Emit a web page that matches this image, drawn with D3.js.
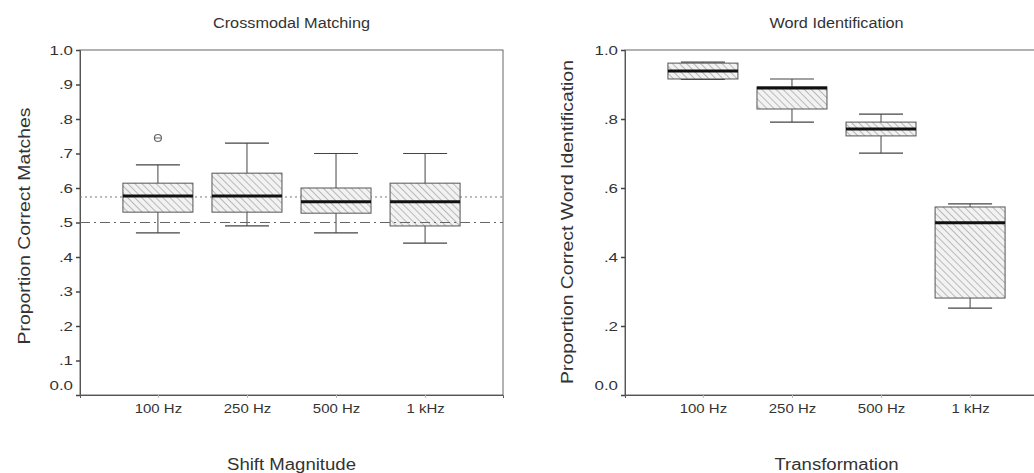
<!DOCTYPE html>
<html>
<head>
<meta charset="utf-8">
<script src="https://cdn.jsdelivr.net/npm/d3@7"></script>
<style>
  body { margin: 0; background: #fff; }
  svg { display: block; font-family: "Liberation Sans", Arial, sans-serif; }
</style>
</head>
<body>
<svg id="chart" width="1034" height="473"></svg>
<script>
// categories shared by both panels
var categories = ['100 Hz', '250 Hz', '500 Hz', '1 kHz'];

// Crossmodal matching box stats
var matchLow    = [0.470, 0.490, 0.470, 0.440];
var matchQ1     = [0.530, 0.530, 0.527, 0.490];
var matchMedian = [0.577, 0.577, 0.560, 0.560];
var matchQ3     = [0.614, 0.643, 0.600, 0.614];
var matchHigh   = [0.667, 0.730, 0.700, 0.700];
var matchOutliers = [{ cat: '100 Hz', value: 0.745 }];
var matchTicks = [0, 0.1, 0.2, 0.3, 0.4, 0.5, 0.6, 0.7, 0.8, 0.9, 1.0];
var matchRefDotted = 0.574;
var matchRefDashDot = 0.5;

// Word identification box stats
var wordLow    = [0.915, 0.791, 0.701, 0.252];
var wordQ1     = [0.916, 0.829, 0.751, 0.281];
var wordMedian = [0.939, 0.890, 0.771, 0.499];
var wordQ3     = [0.962, 0.893, 0.791, 0.545];
var wordHigh   = [0.965, 0.916, 0.814, 0.554];
var wordTicks = [0, 0.2, 0.4, 0.6, 0.8, 1.0];

var svg = d3.select('#chart');

var defs = svg.append('defs');
var pat = defs.append('pattern')
  .attr('id', 'hatch')
  .attr('patternUnits', 'userSpaceOnUse')
  .attr('width', 5)
  .attr('height', 5)
  .attr('patternTransform', 'rotate(-45)');
pat.append('rect').attr('width', 5).attr('height', 5).attr('fill', '#f2f2f2');
pat.append('line')
  .attr('x1', 0).attr('y1', 0).attr('x2', 0).attr('y2', 5)
  .attr('stroke', '#8a8a8a').attr('stroke-width', 1.1);

function tickFmt(v) {
  if (v === 0) return '0.0';
  if (v === 1) return '1.0';
  return d3.format('.1f')(v).replace(/^0/, '');
}

// the original uses a wider face than Liberation Sans, so widen the glyphs a bit
function widen(sel, k) {
  sel.each(function () {
    var w = this.getComputedTextLength();
    d3.select(this).attr('textLength', w * k).attr('lengthAdjust', 'spacingAndGlyphs');
  });
}

function drawPanel(opt) {
  var x = d3.scalePoint().domain(categories).range([opt.left, opt.right]).padding(0.875);
  var y = d3.scaleLinear().domain([0, 1]).range([395, 50]);
  var g = svg.append('g');

  // frame
  g.append('rect')
    .attr('x', opt.left).attr('y', y(1))
    .attr('width', opt.right - opt.left).attr('height', y(0) - y(1))
    .attr('fill', 'none').attr('stroke', '#666').attr('stroke-width', 1);

  // y axis
  var ya = g.append('g')
    .attr('transform', 'translate(' + opt.left + ',0)')
    .call(d3.axisLeft(y).tickValues(opt.ticks).tickFormat(tickFmt).tickSize(4).tickPadding(3));
  ya.select('.domain').attr('stroke', '#555');
  ya.selectAll('.tick line').attr('stroke', '#444').attr('stroke-width', 1.5);
  ya.selectAll('.tick text')
    .attr('fill', '#333').style('font-size', '13px')
    .attr('dy', function (d) { return d === 0 ? '-0.45em' : '0.32em'; });
  widen(ya.selectAll('.tick text'), 1.3);

  // x axis
  var xa = g.append('g')
    .attr('transform', 'translate(0,' + y(0) + ')')
    .call(d3.axisBottom(x).tickSize(3).tickPadding(6));
  xa.select('.domain').attr('stroke', '#555');
  xa.selectAll('.tick line').attr('stroke', '#bbb');
  xa.selectAll('.tick text').attr('fill', '#333').style('font-size', '13px');
  widen(xa.selectAll('.tick text'), 1.15);

  if (opt.refDotted != null) {
    g.append('line')
      .attr('x1', opt.left).attr('x2', opt.right)
      .attr('y1', y(opt.refDotted)).attr('y2', y(opt.refDotted))
      .attr('stroke', '#777').attr('stroke-dasharray', '2,3').attr('stroke-width', 1);
  }

  var boxW = 70, capW = 44;
  var rows = categories.map(function (c, i) {
    return { cat: c, lo: opt.low[i], q1: opt.q1[i], med: opt.med[i], q3: opt.q3[i], hi: opt.high[i] };
  });

  var b = g.selectAll('.box').data(rows).enter().append('g').attr('class', 'box');
  b.append('line')
    .attr('x1', function (d) { return x(d.cat); }).attr('x2', function (d) { return x(d.cat); })
    .attr('y1', function (d) { return y(d.hi); }).attr('y2', function (d) { return y(d.lo); })
    .attr('stroke', '#444');
  b.selectAll('.cap').data(function (d) { return [d.lo, d.hi].map(function (v) { return { cat: d.cat, v: v }; }); })
    .enter().append('line')
    .attr('x1', function (d) { return x(d.cat) - capW / 2; })
    .attr('x2', function (d) { return x(d.cat) + capW / 2; })
    .attr('y1', function (d) { return y(d.v); }).attr('y2', function (d) { return y(d.v); })
    .attr('stroke', '#444').attr('stroke-width', 1.2);
  b.append('rect')
    .attr('x', function (d) { return x(d.cat) - boxW / 2; })
    .attr('y', function (d) { return y(d.q3); })
    .attr('width', boxW)
    .attr('height', function (d) { return y(d.q1) - y(d.q3); })
    .attr('fill', 'url(#hatch)').attr('stroke', '#555').attr('stroke-width', 1);
  b.append('line')
    .attr('x1', function (d) { return x(d.cat) - boxW / 2; })
    .attr('x2', function (d) { return x(d.cat) + boxW / 2; })
    .attr('y1', function (d) { return y(d.med); }).attr('y2', function (d) { return y(d.med); })
    .attr('stroke', '#111').attr('stroke-width', 3);

  if (opt.outliers) {
    var o = g.selectAll('.out').data(opt.outliers).enter().append('g')
      .attr('transform', function (d) { return 'translate(' + x(d.cat) + ',' + y(d.value) + ')'; });
    o.append('circle').attr('r', 3.5).attr('fill', 'none').attr('stroke', '#666').attr('stroke-width', 1.2);
    o.append('line').attr('x1', -3).attr('x2', 3).attr('stroke', '#666');
  }

  if (opt.refDashDot != null) {
    g.append('line')
      .attr('x1', opt.left).attr('x2', opt.right)
      .attr('y1', y(opt.refDashDot)).attr('y2', y(opt.refDashDot))
      .attr('stroke', '#666').attr('stroke-dasharray', '10,4,2,4').attr('stroke-width', 1);
  }

  var cx = (opt.left + opt.right) / 2;
  var t1 = svg.append('text').attr('x', cx).attr('y', 28)
    .attr('text-anchor', 'middle').attr('fill', '#333').style('font-size', '14px').text(opt.title);
  var t2 = svg.append('text').attr('x', cx).attr('y', 470)
    .attr('text-anchor', 'middle').attr('fill', '#333').style('font-size', '16px').text(opt.xTitle);
  var t3 = svg.append('text')
    .attr('transform', 'translate(' + opt.yTitleX + ',' + opt.yTitleY + ') rotate(-90)')
    .attr('text-anchor', 'middle').attr('fill', '#333').style('font-size', '17px').text(opt.yTitle);
  widen(t1, 1.16);
  widen(t2, 1.16);
  widen(t3, 1.14);
}

drawPanel({
  left: 80, right: 503, ticks: matchTicks,
  low: matchLow, q1: matchQ1, med: matchMedian, q3: matchQ3, high: matchHigh,
  outliers: matchOutliers, refDotted: matchRefDotted, refDashDot: matchRefDashDot,
  title: 'Crossmodal Matching', xTitle: 'Shift Magnitude',
  yTitle: 'Proportion Correct Matches', yTitleX: 30, yTitleY: 226
});

drawPanel({
  left: 625, right: 1048, ticks: wordTicks,
  low: wordLow, q1: wordQ1, med: wordMedian, q3: wordQ3, high: wordHigh,
  title: 'Word Identification', xTitle: 'Transformation',
  yTitle: 'Proportion Correct Word Identification', yTitleX: 573, yTitleY: 222
});
</script>
</body>
</html>
